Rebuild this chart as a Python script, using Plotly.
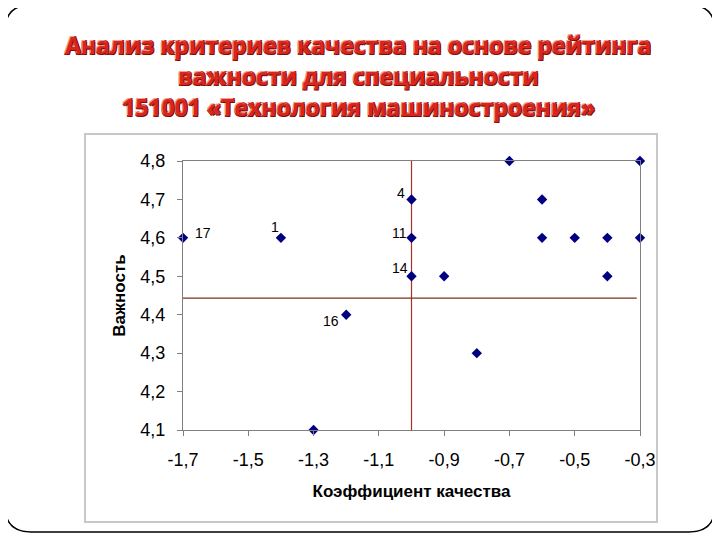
import plotly.graph_objects as go

# ---- data ----
coef = [-1.7, -1.4, -1.3, -1.2, -1.0, -1.0, -1.0, -0.9, -0.8, -0.7, -0.6, -0.6, -0.5, -0.4, -0.4, -0.3, -0.3]
importance = [4.6, 4.6, 4.1, 4.4, 4.7, 4.6, 4.5, 4.5, 4.3, 4.8, 4.7, 4.6, 4.6, 4.6, 4.5, 4.8, 4.6]
point_labels = ["17", "1", "", "16", "4", "11", "14", "", "", "", "", "", "", "", "", "", ""]
mean_coef = -1.0
mean_importance = 4.443
x_ticks = [-1.7, -1.5, -1.3, -1.1, -0.9, -0.7, -0.5, -0.3]
x_tick_labels = ["-1,7", "-1,5", "-1,3", "-1,1", "-0,9", "-0,7", "-0,5", "-0,3"]
y_ticks = [4.1, 4.2, 4.3, 4.4, 4.5, 4.6, 4.7, 4.8]
y_tick_labels = ["4,1", "4,2", "4,3", "4,4", "4,5", "4,6", "4,7", "4,8"]

title_lines = ["Анализ критериев качества на основе рейтинга",
               "важности для специальности",
               "151001 «Технология машиностроения»"]

# label offsets in pixels (style), keyed by label text
label_shift = {"17": (20, 5), "1": (-6, 11), "16": (-15, -6), "4": (-11, 6), "11": (-12, 5), "14": (-12, 8)}

# page body has an 8px default margin; work in reference pixel coords and offset
OFF = 8
W, H = 720 - OFF, 540 - OFF
L, R, T, B = 183, 640, 161, 430

def px(x):
    return (x - L) / (R - L)

def py(y):
    return (B - y) / (B - T)

fig = go.Figure()

# vertical mean line
fig.add_trace(go.Scatter(x=[mean_coef, mean_coef], y=[y_ticks[0], y_ticks[-1]], mode="lines",
                         line=dict(color="#a8302a", width=1.2), hoverinfo="skip", showlegend=False))
# horizontal mean line
fig.add_trace(go.Scatter(x=[x_ticks[0], -0.31], y=[mean_importance, mean_importance], mode="lines",
                         line=dict(color="#7a3020", width=1.2), hoverinfo="skip", showlegend=False))

fig.add_trace(go.Scatter(
    x=coef, y=importance, mode="markers",
    marker=dict(symbol="diamond", size=8, color="#000080"),
    cliponaxis=False, showlegend=False))

for xv, yv, lab in zip(coef, importance, point_labels):
    if lab:
        dx, dy = label_shift[lab]
        fig.add_annotation(x=xv, y=yv, text=lab, showarrow=False, xshift=dx, yshift=dy,
                           font=dict(family="Liberation Sans, Arial", size=14, color="#000000"))

# slide border (rounded)
x0, y0, x1, y1, r = 5, 5, 715, 532, 26
path = (f"M {px(x0 + r)} {py(y0)} L {px(x1 - r)} {py(y0)} "
        f"Q {px(x1)} {py(y0)} {px(x1)} {py(y0 + r)} L {px(x1)} {py(y1 - r)} "
        f"Q {px(x1)} {py(y1)} {px(x1 - r)} {py(y1)} L {px(x0 + r)} {py(y1)} "
        f"Q {px(x0)} {py(y1)} {px(x0)} {py(y1 - r)} L {px(x0)} {py(y0 + r)} "
        f"Q {px(x0)} {py(y0)} {px(x0 + r)} {py(y0)} Z")
fig.add_shape(type="path", path=path, xref="paper", yref="paper",
              line=dict(color="#000000", width=1.5), layer="below")
# chart box
fig.add_shape(type="rect", xref="paper", yref="paper",
              x0=px(85), x1=px(657), y0=py(522), y1=py(134),
              line=dict(color="#c8c8c8", width=2), layer="below")

for i, t in enumerate(title_lines):
    fig.add_annotation(text=f"<b>{t}</b>", xref="paper", yref="paper",
                       x=px(358), y=py(45 + i * 31), xanchor="center", yanchor="middle",
                       showarrow=False,
                       font=dict(family="Open Sans, Liberation Sans", size=23, color="#d9261c",
                                 shadow="1px 1px 0px #7a0c08, -1px -1px 0px #f4a090, 1px -1px 0px #b0201a, -1px 1px 0px #b0201a"))

fig.update_layout(
    width=W, height=H,
    margin=dict(l=L - OFF, r=W - (R - OFF), t=T - OFF, b=H - (B - OFF)),
    paper_bgcolor="white", plot_bgcolor="white",
    font=dict(family="Liberation Sans, Arial", color="#000000"),
    xaxis=dict(range=[-1.7, -0.3], tickvals=x_ticks, ticktext=x_tick_labels,
               showgrid=False, zeroline=False, showline=True, linecolor="#808080", linewidth=1,
               mirror=True, ticks="outside", ticklen=5, tickcolor="#808080",
               tickfont=dict(size=18), ticklabelstandoff=8,
               title=dict(text="<b>Коэффициент качества</b>", font=dict(size=17), standoff=16)),
    yaxis=dict(range=[4.1, 4.8], tickvals=y_ticks, ticktext=y_tick_labels,
               showgrid=False, zeroline=False, showline=True, linecolor="#808080", linewidth=1,
               mirror=True, ticks="outside", ticklen=5, tickcolor="#808080",
               tickfont=dict(size=18), ticklabelstandoff=8,
               title=dict(text="<b>Важность</b>", font=dict(size=17), standoff=10)),
)

fig.write_html("out.html")
